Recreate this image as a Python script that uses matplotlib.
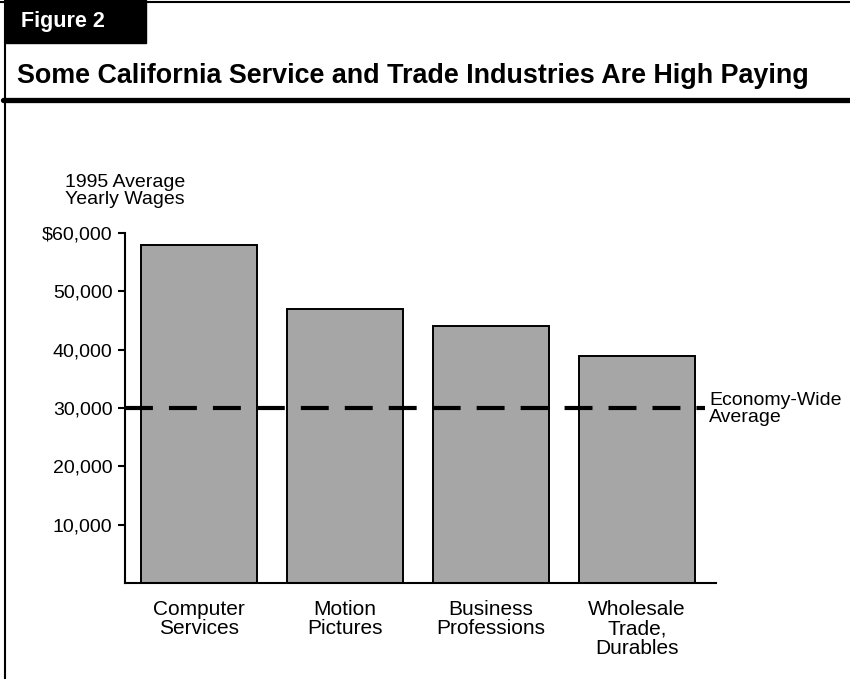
import matplotlib.pyplot as plt
from matplotlib.lines import Line2D
from matplotlib.patches import Rectangle

categories = ["Computer\nServices", "Motion\nPictures", "Business\nProfessions",
              "Wholesale\nTrade,\nDurables"]
wages = [58000, 47000, 44000, 39000]
economy_avg = 30000
yticks = [10000, 20000, 30000, 40000, 50000, 60000]
ytick_labels = ["10,000", "20,000", "30,000", "40,000", "50,000", "$60,000"]

plt.rcParams["font.family"] = ["Liberation Sans", "DejaVu Sans"]

W, H = 850, 679
fig = plt.figure(figsize=(W / 100, H / 100), dpi=100)


def fx(px):
    return px / W


def fy(py):
    return 1 - py / H


# frame and header
fig.add_artist(Line2D([fx(5), fx(5)], [0, 1], color="black", lw=1.5,
                      transform=fig.transFigure))
fig.add_artist(Line2D([0, 1], [fy(1.5), fy(1.5)], color="black", lw=1.5,
                      transform=fig.transFigure))
fig.add_artist(Line2D([fx(3), 1], [fy(100), fy(100)], color="black", lw=3.8,
                      solid_capstyle="round", transform=fig.transFigure))
fig.add_artist(Rectangle((fx(5), fy(43)), fx(141), 43 / H, color="black",
                         transform=fig.transFigure))
fig.text(fx(21), fy(22), "Figure 2", color="white", fontsize=15.5, fontweight="bold",
         va="center", ha="left")
fig.text(fx(17), fy(76), "Some California Service and Trade Industries Are High Paying",
         fontsize=19.4, fontweight="bold", va="center", ha="left")

ax = fig.add_axes([fx(125), fy(583), fx(716) - fx(125), (583 - 233) / H])
x = range(len(categories))
ax.bar(x, wages, width=0.795, color="#a6a6a6", edgecolor="black", linewidth=1.4, zorder=2)
ax.plot([-0.507, 3.466], [economy_avg, economy_avg], color="black", lw=3,
        dashes=(6.7, 3.85), solid_capstyle="butt", zorder=3, clip_on=False)

ax.set_xlim(-0.507, 3.54)
ax.set_ylim(0, 60000)
ax.set_yticks(yticks)
ax.set_yticklabels(ytick_labels, fontsize=14)
ax.set_xticks(list(x))
ax.set_xticklabels(categories, fontsize=15, linespacing=1.05)
ax.tick_params(axis="x", length=0, pad=12)
ax.tick_params(axis="y", length=5, width=1.5, pad=4)
for side in ["top", "right"]:
    ax.spines[side].set_visible(False)
for side in ["left", "bottom"]:
    ax.spines[side].set_linewidth(1.5)

ax.text(-0.92, 64200, "1995 Average\nYearly Wages", fontsize=14, ha="left",
        va="bottom", linespacing=1.05)
ax.text(3.495, economy_avg - 200, "Economy-Wide\nAverage", fontsize=14, ha="left",
        va="center", linespacing=1.0)

fig.savefig("out.png", dpi=100)
